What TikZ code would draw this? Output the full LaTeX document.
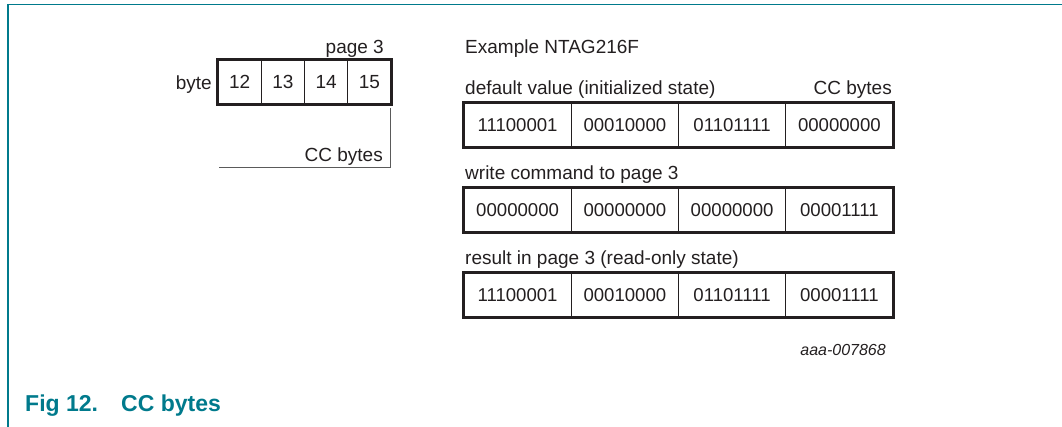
\documentclass[tikz,border=0pt]{standalone}
\usepackage{fontspec}
\setmainfont{Liberation Sans}
\definecolor{nxpteal}{RGB}{0,122,140}
\definecolor{ink}{RGB}{35,31,32}
\definecolor{thin}{RGB}{90,90,90}
\begin{document}
\begin{tikzpicture}[x=1pt,y=-1pt,
  every node/.style={font=\fontsize{19}{22}\selectfont, text=ink, inner sep=0pt},
  cellL/.style={draw=ink, line width=1.4pt, minimum width=43.25pt, minimum height=44pt},
  cellR/.style={draw=ink, line width=1.4pt, minimum width=107.25pt, minimum height=44pt, font=\fontsize{18.6}{22}\selectfont},
  outer/.style={draw=ink, line width=3pt},
  lbl/.style={anchor=base west},
  lblr/.style={anchor=base east},
  bracket/.style={draw=thin, line width=1pt},
  caption/.style={anchor=base west, font=\fontsize{23}{27}\selectfont\bfseries, text=nxpteal}]
\useasboundingbox (0,0) rectangle (1062,426);
% frame
\draw[nxpteal, line width=1.4pt] (8,430) -- (8,4.5) -- (1070,4.5);

% left block
\node[cellL] (c12) at (239.6,82) {12};
\node[cellL] (c13) at (282.9,82) {13};
\node[cellL] (c14) at (326.1,82) {14};
\node[cellL] (c15) at (369.4,82) {15};
\draw[outer] (c12.north west) rectangle (c15.south east);
\node[lblr] (byte) at (212,89) {byte};
\node[lblr] (pg) at (384,53) {page 3};
\coordinate (btop) at (390,108);
\coordinate (bcorner) at (390,167);
\coordinate (bleft) at (219,167);
\draw[bracket] (btop) -- (bcorner) -- (bleft);
\node[lblr] (ccl) at (383,161) {CC bytes};

% right block
\node[lbl] (ex) at (465,53) {Example NTAG216F};

\node[lbl] (l1) at (465,94) {default value (initialized state)};
\node[lblr] (cc1) at (892,94) {CC bytes};
\node[cellR] (a1) at (517.6,125) {11100001};
\node[cellR] (a2) at (624.9,125) {00010000};
\node[cellR] (a3) at (732.1,125) {01101111};
\node[cellR] (a4) at (839.4,125) {00000000};
\draw[outer] (a1.north west) rectangle (a4.south east);

\node[lbl] (l2) at (465,179) {write command to page 3};
\node[cellR] (b1) at (517.6,210) {00000000};
\node[cellR] (b2) at (624.9,210) {00000000};
\node[cellR] (b3) at (732.1,210) {00000000};
\node[cellR] (b4) at (839.4,210) {00001111};
\draw[outer] (b1.north west) rectangle (b4.south east);

\node[lbl] (l3) at (465,264) {result in page 3 (read-only state)};
\node[cellR] (r1) at (517.6,295) {11100001};
\node[cellR] (r2) at (624.9,295) {00010000};
\node[cellR] (r3) at (732.1,295) {01101111};
\node[cellR] (r4) at (839.4,295) {00001111};
\draw[outer] (r1.north west) rectangle (r4.south east);

\node[lblr, font=\fontsize{16}{19}\selectfont\itshape] (id) at (886,355) {aaa-007868};

% caption
\node[caption] (fig) at (25,411) {Fig 12.};
\node[caption] (figt) at (121,411) {CC bytes};
\end{tikzpicture}
\end{document}
